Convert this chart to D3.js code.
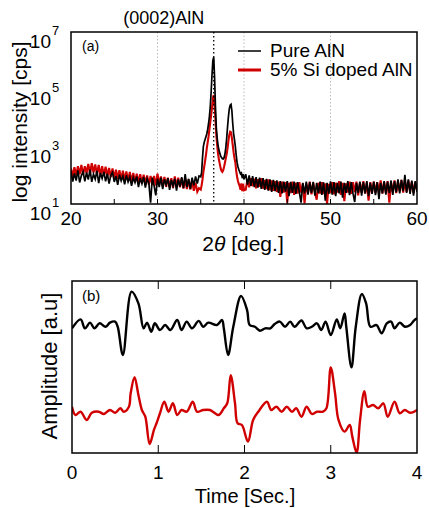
<!DOCTYPE html>
<html><head><meta charset="utf-8">
<script src="https://cdn.jsdelivr.net/npm/d3@7"></script>
<style>body{margin:0;background:#fff}svg{display:block;font-family:"Liberation Sans",Arial,sans-serif}</style>
</head><body><svg id="c" width="429" height="508"></svg>
<script>
// ---------- Panel (a): XRD ----------
const xrdSeries = ["Pure AlN", "5% Si doped AlN"];
// 2θ sampling grid (deg): 20–34.8 step 0.2, 35–40 step 0.1, 40.2–60 step 0.2
const twoTheta = [].concat(d3.range(20, 34.9, 0.2), d3.range(35, 40.05, 0.1), d3.range(40.2, 60.1, 0.2));
// log10 intensity [cps]
const pureLog = [
2.14,1.78,2.07,1.82,2.17,1.75,1.99,2.12,1.79,2.10,1.85,2.20,1.77,2.04,1.87,2.16,1.73,2.08,1.89,2.12,
1.79,2.06,1.71,2.00,2.10,1.77,1.98,1.67,2.02,1.81,1.97,1.69,2.00,1.77,1.94,1.63,1.92,1.75,1.96,1.59,
1.90,1.71,1.94,1.57,1.88,1.73,1.05,1.92,1.65,1.30,1.88,1.59,1.92,1.52,1.86,1.67,1.90,1.49,1.84,1.63,
1.88,1.47,1.86,1.61,1.94,1.55,2.04,1.59,1.88,1.53,1.92,1.65,1.96,1.71,1.98,
1.95,2.10,2.60,3.00,3.15,3.25,3.35,3.45,3.60,3.80,4.05,4.40,4.90,5.50,6.00,6.12,5.40,4.40,3.65,3.30,
3.05,2.88,2.78,2.68,2.62,2.58,2.57,2.62,2.75,2.98,3.30,3.70,4.05,4.32,4.45,4.48,4.25,3.80,3.45,3.25,
3.00,2.70,2.45,2.30,2.20,2.12,2.05,2.08,1.90,2.04,1.86,
2.04,1.68,2.00,1.63,1.97,1.59,1.94,1.57,1.92,1.53,1.90,1.49,1.88,1.47,1.86,1.42,1.84,1.45,1.82,1.39,
1.80,1.37,1.78,1.43,1.80,1.27,1.77,1.39,1.78,1.35,1.76,1.41,1.05,1.74,1.37,1.78,1.33,1.76,1.39,1.77,
1.29,1.74,1.37,1.78,1.32,1.76,1.12,1.74,1.35,1.79,1.33,1.76,1.27,1.74,1.37,1.78,1.22,1.74,1.39,1.80,
1.31,1.76,1.37,1.07,1.74,1.39,1.78,1.29,1.76,1.37,1.80,1.27,1.74,1.35,1.78,1.31,1.76,1.17,1.74,1.37,
1.80,1.33,1.78,1.39,1.82,1.32,1.80,1.41,1.86,1.37,1.84,1.45,2.02,1.39,1.86,1.35,1.82,1.29,1.80,1.42];
const dopedLog = [
2.24,1.96,2.28,2.00,2.32,2.04,2.36,2.02,2.32,2.08,2.40,2.06,2.42,2.10,2.38,2.04,2.36,2.00,2.32,1.98,
2.30,1.96,2.26,1.94,2.24,1.90,2.20,1.88,2.18,1.84,2.16,1.82,2.14,1.80,2.12,1.78,2.08,1.76,2.06,1.74,
2.04,1.72,2.02,1.70,2.00,1.68,1.98,1.66,1.98,1.64,2.06,1.68,1.96,1.62,1.94,1.60,1.92,1.58,1.90,1.56,
1.96,1.60,1.92,1.58,1.90,1.54,1.88,1.52,1.86,1.50,1.82,1.46,1.74,1.43,1.55,
1.50,1.65,1.85,2.10,2.30,2.50,2.70,2.95,3.15,3.35,3.60,3.85,4.10,4.35,4.70,4.80,4.45,3.95,3.40,3.05,
2.75,2.55,2.40,2.25,2.15,2.12,2.18,2.30,2.45,2.60,2.75,2.95,3.20,3.42,3.52,3.50,3.30,3.05,2.80,2.60,
2.45,2.15,1.95,1.80,1.70,1.62,1.50,1.72,1.45,1.70,1.48,
1.50,1.85,1.58,1.90,1.62,1.88,1.55,1.86,1.60,1.90,1.54,1.84,1.52,1.86,1.48,1.82,1.46,1.80,1.42,1.78,
1.25,1.78,1.40,1.76,1.05,1.74,1.38,1.78,1.32,1.74,1.36,1.76,1.40,1.72,1.02,1.72,1.40,1.78,1.34,1.74,
1.42,1.15,1.74,1.36,1.76,1.35,1.72,1.00,1.70,1.38,1.76,1.34,1.74,1.40,1.80,1.32,1.74,1.10,1.72,1.40,
1.78,1.35,1.76,1.42,1.78,1.30,1.74,1.40,1.80,1.36,1.74,1.12,1.76,1.40,1.78,1.38,1.76,1.42,1.82,1.36,
1.76,1.40,1.80,1.05,1.74,1.42,1.82,1.38,1.78,1.44,1.84,1.40,1.80,1.42,1.82,1.44,1.78,1.38,1.76,1.50];
const xrdXTicks = [20, 30, 40, 50, 60];
const xrdXMinor = [25, 30, 35, 40, 45, 50, 55];
const xrdYTicks = [1, 3, 5, 7];
const xrdGrid = [30, 40, 50];
const peakPos = 36.5;
const peakLabel = "(0002)AlN";

// ---------- Panel (b): time signals ----------
const blackT = [0.00,0.10,0.15,0.21,0.26,0.32,0.39,0.44,0.50,0.53,0.59,0.69,0.77,0.83,0.87,0.92,0.96,1.02,1.08,1.14,
1.22,1.27,1.33,1.39,1.47,1.52,1.58,1.68,1.74,1.76,1.81,1.87,1.96,2.03,2.06,2.12,2.18,2.24,2.30,2.35,
2.41,2.47,2.53,2.58,2.66,2.72,2.78,2.84,2.89,2.94,3.00,3.07,3.11,3.16,3.18,3.24,3.29,3.36,3.41,3.46,
3.53,3.59,3.65,3.70,3.74,3.80,3.86,3.92,3.97,4.00];
const blackV = [7.25,7.77,7.25,7.58,7.25,7.54,7.34,7.58,7.64,7.34,5.70,9.38,8.70,7.25,7.58,7.05,7.54,7.15,7.44,7.15,
7.73,7.15,7.64,7.25,7.68,7.34,7.58,7.44,7.73,7.25,5.70,7.34,9.13,8.31,7.44,7.34,7.11,7.25,7.25,7.50,
7.64,7.34,7.64,7.34,7.70,7.25,7.34,7.54,7.15,7.64,6.86,7.77,7.25,8.12,7.34,4.98,7.34,9.24,8.70,7.34,
7.44,6.96,7.54,7.64,7.25,7.58,7.34,7.44,7.73,7.83];
const redT = [0.00,0.04,0.10,0.17,0.23,0.31,0.37,0.44,0.50,0.56,0.60,0.66,0.68,0.725,0.77,0.81,0.85,0.90,0.95,0.98,
1.02,1.07,1.12,1.17,1.22,1.27,1.33,1.40,1.45,1.52,1.60,1.70,1.76,1.80,1.84,1.89,1.92,1.97,2.04,2.10,
2.16,2.26,2.31,2.37,2.43,2.49,2.55,2.60,2.66,2.72,2.78,2.84,2.91,2.95,3.00,3.05,3.09,3.16,3.22,3.25,
3.30,3.34,3.39,3.43,3.49,3.55,3.61,3.66,3.74,3.80,3.86,3.92,4.00];
const redV = [2.69,2.21,2.40,1.92,2.34,2.40,2.27,2.50,2.34,2.60,2.40,2.69,3.47,4.40,3.37,2.50,2.11,0.52,1.34,1.73,
2.31,2.98,2.40,2.89,2.21,2.50,2.40,2.98,2.40,2.50,2.50,2.21,2.60,2.89,4.53,2.89,1.73,1.63,0.66,1.92,
2.40,2.98,2.50,2.69,2.40,2.69,2.40,2.60,2.11,2.69,2.27,2.40,2.40,2.60,4.98,3.47,1.92,1.24,1.63,0.95,
0.02,1.92,3.60,2.69,2.79,2.60,2.89,2.11,2.98,2.31,2.50,2.34,2.50];
const sigXTicks = [0, 1, 2, 3, 4];

const RED = "#d10000";
const svg = d3.select("#c");

// ===== Panel (a) =====
const A = {l: 71, r: 417, t: 32, b: 204};
const xa = d3.scaleLinear().domain([20, 60]).range([A.l, A.r]);
const ya = d3.scaleLinear().domain([1, 7]).range([A.b, A.t]);
const ga = svg.append("g");
svg.append("clipPath").attr("id","ca").append("rect")
  .attr("x", A.l).attr("y", A.t).attr("width", A.r - A.l).attr("height", A.b - A.t);

ga.selectAll(".grid").data(xrdGrid).join("line")
  .attr("x1", d => xa(d)).attr("x2", d => xa(d)).attr("y1", A.t).attr("y2", A.b)
  .attr("stroke", "#aaa").attr("stroke-width", 0.8).attr("stroke-dasharray", "1.5,2");

const xrdData = [dopedLog, pureLog];
const colorsA = [RED, "#000"];
const widthsA = [2.1, 1.7];
const lineA = d3.line().x((d, i) => xa(twoTheta[i])).y(d => ya(d));
xrdData.forEach((s, k) => {
  ga.append("path").attr("d", lineA(s)).attr("fill", "none")
    .attr("stroke", colorsA[k]).attr("stroke-width", widthsA[k])
    .attr("clip-path", "url(#ca)");
});

ga.append("line").attr("x1", xa(peakPos)).attr("x2", xa(peakPos)).attr("y1", A.t).attr("y2", A.b)
  .attr("stroke", "#000").attr("stroke-width", 1.3).attr("stroke-dasharray", "1.5,2.5");

ga.selectAll(".mt").data(xrdXMinor).join("line")
  .attr("x1", d => xa(d)).attr("x2", d => xa(d)).attr("y1", A.b).attr("y2", A.b - 5)
  .attr("stroke", "#000").attr("stroke-width", 1);

ga.append("rect").attr("x", A.l).attr("y", A.t).attr("width", A.r - A.l).attr("height", A.b - A.t)
  .attr("fill", "none").attr("stroke", "#000").attr("stroke-width", 1.5);

ga.selectAll(".xl").data(xrdXTicks).join("text")
  .attr("x", d => xa(d)).attr("y", 225).attr("text-anchor", "middle")
  .attr("font-size", 19).text(d => d);

const yl = ga.selectAll(".yl").data(xrdYTicks).join("g");
yl.append("text").attr("x", 51).attr("y", d => ya(d) + 16).attr("text-anchor", "end")
  .attr("font-size", 19).text("10");
yl.append("text").attr("x", 52).attr("y", d => ya(d) + 3).attr("font-size", 13).text(d => d);

ga.append("text").attr("transform", `translate(27,${(A.t + A.b) / 2 + 4}) rotate(-90)`)
  .attr("text-anchor", "middle").attr("font-size", 21).text("log intensity [cps]");

const xt = ga.append("text").attr("x", 243).attr("y", 251).attr("text-anchor", "middle").attr("font-size", 21);
xt.append("tspan").text("2");
xt.append("tspan").attr("font-style", "italic").text("θ");
xt.append("tspan").text(" [deg.]");

ga.append("text").attr("x", xa(peakPos) - 50).attr("y", 24).attr("text-anchor", "middle")
  .attr("font-size", 18).text(peakLabel);
ga.append("text").attr("x", 82).attr("y", 51).attr("font-size", 14).text("(a)");

const leg = ga.selectAll(".lg").data(xrdSeries).join("g")
  .attr("transform", (d, i) => `translate(0,${i * 19})`);
leg.append("line").attr("x1", 238).attr("x2", 261).attr("y1", 51).attr("y2", 51)
  .attr("stroke", (d, i) => i === 0 ? "#000" : RED).attr("stroke-width", (d, i) => i === 0 ? 1.5 : 3);
leg.append("text").attr("x", 270).attr("y", 57).attr("font-size", 19).text(d => d);

// ===== Panel (b) =====
const B = {l: 72, r: 417, t: 281, b: 453};
const xb = d3.scaleLinear().domain([0, 4]).range([B.l, B.r]);
const yb = d3.scaleLinear().domain([0, 10]).range([B.b, B.t]);
const gb = svg.append("g");
svg.append("clipPath").attr("id","cb").append("rect")
  .attr("x", B.l).attr("y", B.t).attr("width", B.r - B.l).attr("height", B.b - B.t);
const lineB = d3.line().curve(d3.curveCatmullRom.alpha(0.5)).x(d => xb(d[0])).y(d => yb(d[1]));
const sig = [[blackT, blackV, "#000"], [redT, redV, RED]];
sig.forEach(([t, v, c]) => {
  gb.append("path").attr("d", lineB(t.map((tt, i) => [tt, v[i]]))).attr("fill", "none")
    .attr("stroke", c).attr("stroke-width", 2.4).attr("clip-path", "url(#cb)");
});
gb.selectAll(".tb").data(sigXTicks.slice(1, -1)).join("g").each(function(d) {
  const g = d3.select(this);
  g.append("line").attr("x1", xb(d)).attr("x2", xb(d)).attr("y1", B.t).attr("y2", B.t + 8).attr("stroke", "#000");
  g.append("line").attr("x1", xb(d)).attr("x2", xb(d)).attr("y1", B.b).attr("y2", B.b - 8).attr("stroke", "#000");
});
gb.append("rect").attr("x", B.l).attr("y", B.t).attr("width", B.r - B.l).attr("height", B.b - B.t)
  .attr("fill", "none").attr("stroke", "#000").attr("stroke-width", 1.5);
gb.selectAll(".xl").data(sigXTicks).join("text")
  .attr("x", d => xb(d)).attr("y", 479).attr("text-anchor", "middle").attr("font-size", 19).text(d => d);
gb.append("text").attr("x", 245).attr("y", 503).attr("text-anchor", "middle").attr("font-size", 20).text("Time [Sec.]");
gb.append("text").attr("transform", `translate(57,${(B.t + B.b) / 2 - 1}) rotate(-90)`)
  .attr("text-anchor", "middle").attr("font-size", 22).text("Amplitude [a.u]");
gb.append("text").attr("x", 82).attr("y", 301).attr("font-size", 15).text("(b)");
</script></body></html>
